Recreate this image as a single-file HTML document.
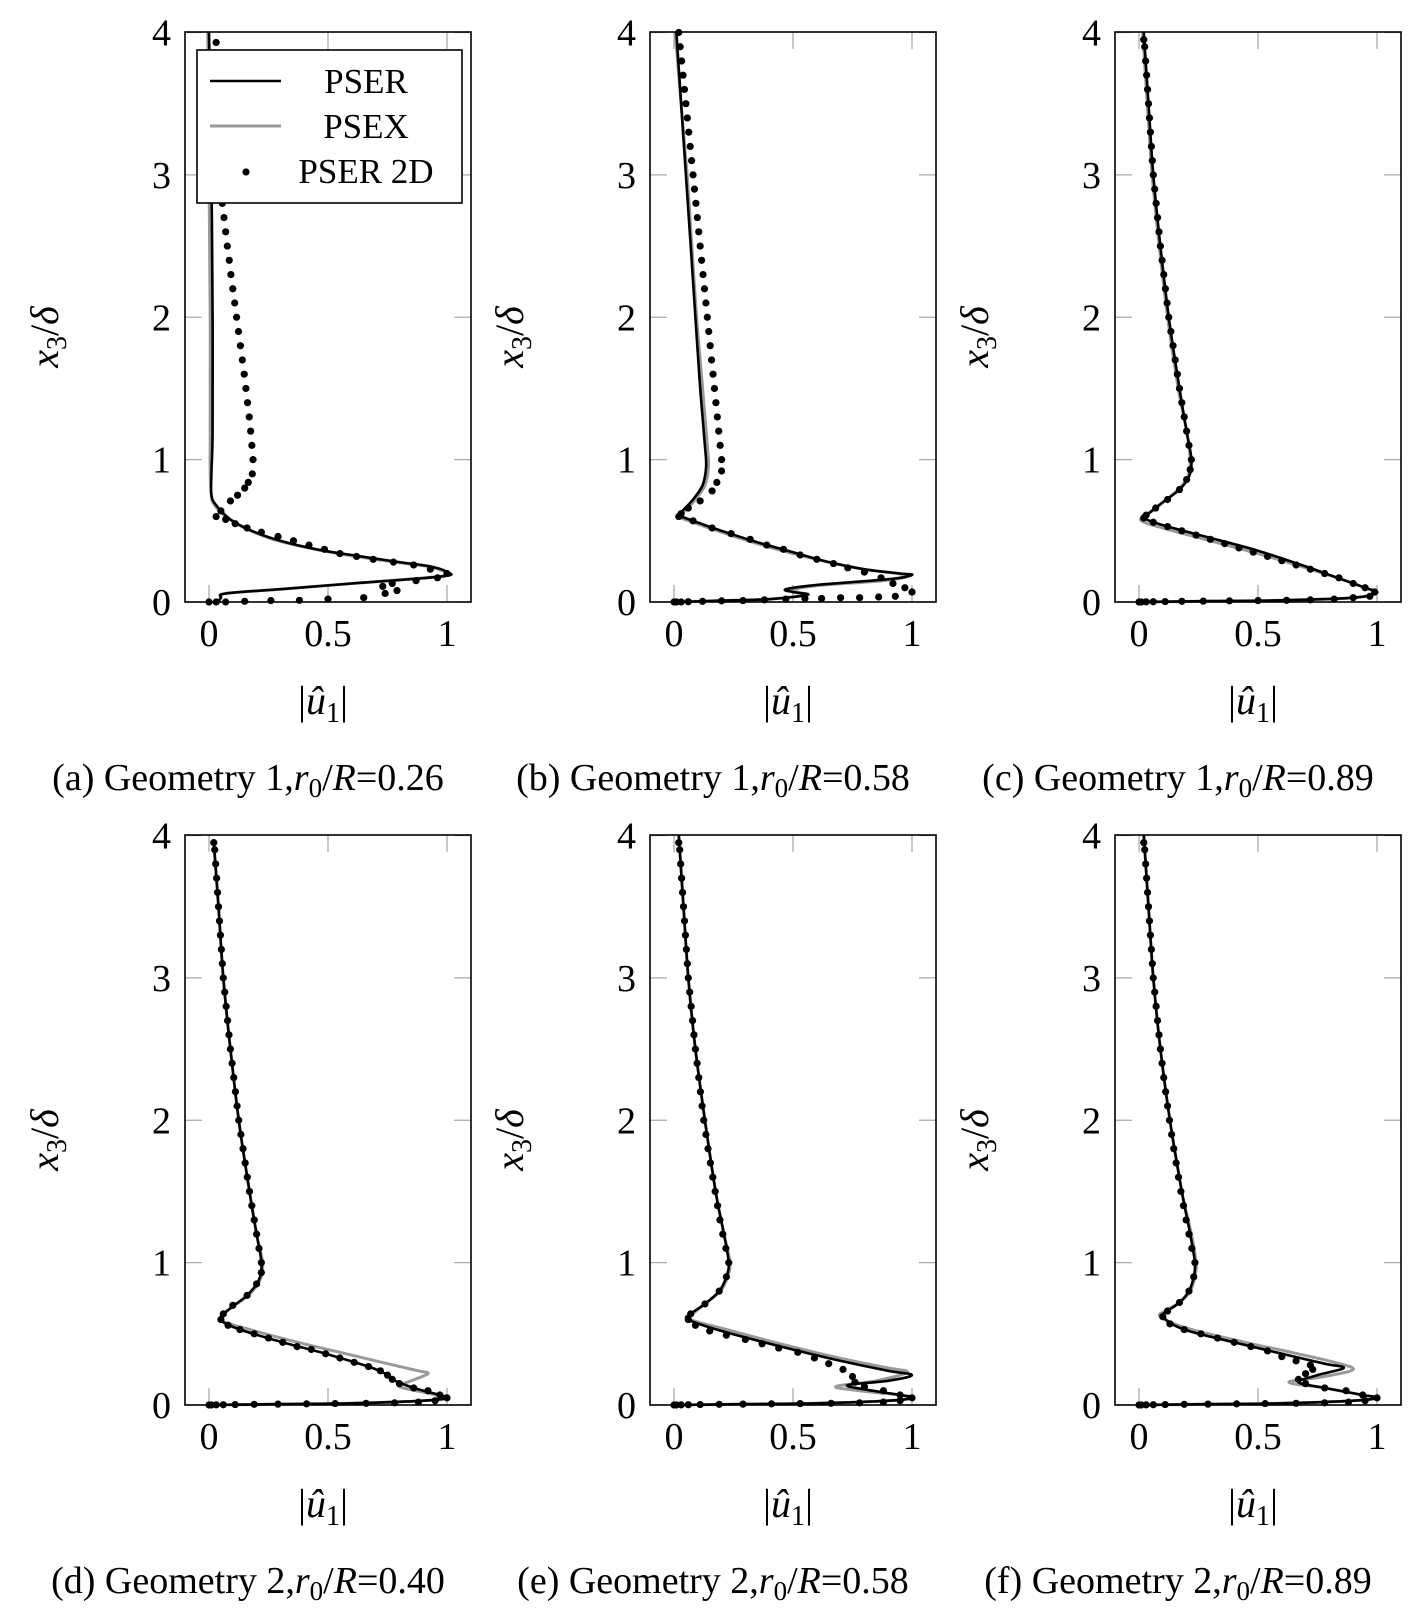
<!DOCTYPE html>
<html><head><meta charset="utf-8"><style>
html,body{margin:0;padding:0;background:#fff;}
svg{display:block;font-family:"Liberation Serif",serif;}
</style></head><body>
<svg id="fig" width="1421" height="1622" viewBox="0 0 1421 1622" xmlns="http://www.w3.org/2000/svg"></svg>
<script>
const xTicks=[0,0.5,1];
const xTickLabels=["0","0.5","1"];
const yTicks=[0,1,2,3,4];
const yTickLabels=["0","1","2","3","4"];
const captions=["(a) Geometry 1,","(b) Geometry 1,","(c) Geometry 1,","(d) Geometry 2,","(e) Geometry 2,","(f) Geometry 2,"];
const ratios=["0.26","0.58","0.89","0.40","0.58","0.89"];

const pserA=[[0,4],[0.01,3],[0.015,2],[0.015,1.2],[0.01,0.9],[0.01,0.75],[0.03,0.68],[0.09,0.58],[0.18,0.5],[0.3,0.43],[0.45,0.37],[0.6,0.33],[0.8,0.28],[0.93,0.25],[1.0,0.21],[0.98,0.18],[0.6,0.13],[0.3,0.09],[0.07,0.06],[0.05,0.03],[0.04,0]];
const psexA=[[-0.005,4],[0.0,3],[0.005,2],[0.005,1.2],[0.005,0.9],[0.01,0.75],[0.02,0.69],[0.07,0.6],[0.15,0.52],[0.27,0.44],[0.42,0.38],[0.58,0.33],[0.78,0.28],[0.92,0.25],[0.99,0.21],[0.97,0.18],[0.6,0.13],[0.3,0.09],[0.07,0.06],[0.05,0.03],[0.04,0]];
const dotsA=[[0.03,3.93],[0.035,3.8],[0.037,3.7],[0.038,3.6],[0.04,3.5],[0.041,3.4],[0.042,3.3],[0.043,3.2],[0.044,3.1],[0.045,3.0],[0.05,2.9],[0.056,2.8],[0.063,2.7],[0.07,2.6],[0.077,2.5],[0.085,2.4],[0.092,2.3],[0.1,2.2],[0.108,2.1],[0.116,2.0],[0.124,1.9],[0.132,1.8],[0.14,1.7],[0.148,1.6],[0.155,1.5],[0.162,1.4],[0.169,1.3],[0.175,1.2],[0.18,1.1],[0.185,1.0],[0.182,0.9],[0.165,0.84],[0.15,0.8],[0.12,0.75],[0.09,0.71],[0.05,0.64],[0.03,0.6],[0.07,0.58],[0.11,0.55],[0.16,0.52],[0.22,0.49],[0.29,0.46],[0.355,0.43],[0.42,0.4],[0.485,0.37],[0.55,0.34],[0.62,0.32],[0.69,0.3],[0.775,0.28],[0.86,0.26],[0.93,0.23],[1.0,0.2],[0.96,0.17],[0.87,0.15],[0.77,0.13],[0.73,0.11],[0.79,0.08],[0.74,0.06],[0.65,0.03],[0.5,0.02],[0.38,0.012],[0.26,0.01],[0.15,0.005],[0.07,0],[0.03,0],[0,0]];

const pserB=[[0.01,4],[0.03,3.5],[0.05,3],[0.07,2.5],[0.09,2],[0.11,1.5],[0.13,1.1],[0.135,0.95],[0.12,0.82],[0.08,0.72],[0.03,0.63],[0.02,0.61],[0.08,0.57],[0.2,0.5],[0.35,0.42],[0.5,0.35],[0.65,0.28],[0.8,0.23],[0.95,0.2],[1.0,0.19],[0.9,0.16],[0.6,0.12],[0.47,0.09],[0.5,0.07],[0.56,0.05],[0.4,0.02],[0.2,0.01],[0,0]];
const psexB=[[0.005,4],[0.03,3.5],[0.055,3],[0.075,2.5],[0.095,2],[0.12,1.5],[0.14,1.1],[0.145,0.95],[0.13,0.82],[0.09,0.72],[0.04,0.63],[0.02,0.6],[0.08,0.56],[0.2,0.49],[0.35,0.41],[0.5,0.34],[0.65,0.28],[0.8,0.23],[0.94,0.2],[0.98,0.18],[0.88,0.15],[0.6,0.115],[0.5,0.085],[0.53,0.065],[0.56,0.05],[0.4,0.02],[0.2,0.01],[0,0]];
const dotsB=[[0.02,4.0],[0.026,3.9],[0.032,3.8],[0.038,3.7],[0.044,3.6],[0.05,3.5],[0.056,3.4],[0.062,3.3],[0.068,3.2],[0.074,3.1],[0.08,3.0],[0.086,2.9],[0.092,2.8],[0.098,2.7],[0.104,2.6],[0.11,2.5],[0.116,2.4],[0.122,2.3],[0.128,2.2],[0.134,2.1],[0.14,2.0],[0.146,1.9],[0.152,1.8],[0.158,1.7],[0.164,1.6],[0.17,1.5],[0.176,1.4],[0.182,1.3],[0.188,1.2],[0.194,1.1],[0.2,1.0],[0.2,0.92],[0.18,0.84],[0.16,0.78],[0.11,0.71],[0.06,0.66],[0.03,0.62],[0.02,0.6],[0.08,0.57],[0.16,0.52],[0.24,0.48],[0.32,0.44],[0.39,0.4],[0.46,0.37],[0.53,0.33],[0.6,0.3],[0.67,0.27],[0.73,0.24],[0.8,0.21],[0.87,0.17],[0.92,0.13],[0.97,0.1],[1.0,0.07],[0.93,0.04],[0.86,0.035],[0.78,0.03],[0.7,0.03],[0.62,0.025],[0.55,0.025],[0.47,0.02],[0.38,0.015],[0.29,0.01],[0.2,0.008],[0.12,0.005],[0.06,0.002],[0.03,0],[0.01,0],[0,0]];

const pserC=[[0.02,4],[0.04,3.5],[0.06,3],[0.09,2.5],[0.125,2],[0.17,1.5],[0.2,1.2],[0.22,1.0],[0.21,0.88],[0.17,0.79],[0.1,0.7],[0.04,0.62],[0.02,0.59],[0.1,0.54],[0.3,0.45],[0.5,0.36],[0.7,0.25],[0.85,0.16],[0.95,0.1],[1.0,0.065],[0.9,0.03],[0.6,0.012],[0.3,0.006],[0,0]];
const psexC=[[0.015,4],[0.035,3.5],[0.055,3],[0.085,2.5],[0.12,2],[0.165,1.5],[0.2,1.2],[0.215,1.0],[0.205,0.88],[0.165,0.79],[0.1,0.7],[0.03,0.61],[0.01,0.57],[0.1,0.52],[0.3,0.43],[0.5,0.34],[0.7,0.24],[0.85,0.16],[0.95,0.1],[0.99,0.065],[0.9,0.03],[0.6,0.012],[0.3,0.006],[0,0]];
const dotsC=[[0.02,3.95],[0.024,3.9],[0.028,3.8],[0.032,3.7],[0.036,3.6],[0.04,3.5],[0.044,3.4],[0.048,3.3],[0.052,3.2],[0.056,3.1],[0.06,3.0],[0.066,2.9],[0.072,2.8],[0.078,2.7],[0.084,2.6],[0.09,2.5],[0.097,2.4],[0.104,2.3],[0.111,2.2],[0.118,2.1],[0.125,2.0],[0.134,1.9],[0.143,1.8],[0.152,1.7],[0.161,1.6],[0.17,1.5],[0.18,1.4],[0.19,1.3],[0.2,1.2],[0.21,1.1],[0.22,1.0],[0.215,0.93],[0.2,0.86],[0.17,0.79],[0.12,0.72],[0.07,0.66],[0.03,0.61],[0.02,0.59],[0.06,0.56],[0.12,0.53],[0.18,0.5],[0.24,0.47],[0.3,0.44],[0.36,0.41],[0.42,0.38],[0.48,0.35],[0.54,0.32],[0.6,0.29],[0.66,0.26],[0.72,0.23],[0.78,0.2],[0.84,0.17],[0.9,0.13],[0.95,0.1],[0.99,0.07],[0.97,0.04],[0.9,0.03],[0.82,0.02],[0.72,0.015],[0.62,0.012],[0.5,0.01],[0.38,0.008],[0.27,0.006],[0.18,0.005],[0.11,0.003],[0.06,0.002],[0.03,0.001],[0.01,0],[0,0]];

const pserD=[[0.02,3.95],[0.04,3.5],[0.06,3],[0.09,2.5],[0.125,2],[0.17,1.5],[0.2,1.2],[0.22,1.0],[0.21,0.88],[0.16,0.77],[0.09,0.68],[0.05,0.6],[0.13,0.53],[0.31,0.44],[0.49,0.36],[0.67,0.27],[0.74,0.22],[0.77,0.18],[0.86,0.12],[0.97,0.07],[1.0,0.05],[0.9,0.03],[0.6,0.012],[0.3,0.006],[0,0]];
const psexD=[[0.02,3.95],[0.04,3.5],[0.06,3],[0.09,2.5],[0.125,2],[0.17,1.5],[0.2,1.2],[0.225,1.0],[0.215,0.88],[0.165,0.77],[0.09,0.68],[0.05,0.6],[0.15,0.54],[0.35,0.45],[0.55,0.37],[0.75,0.29],[0.88,0.24],[0.92,0.22],[0.85,0.17],[0.8,0.13],[0.9,0.09],[1.0,0.05],[0.9,0.03],[0.6,0.012],[0.3,0.006],[0,0]];
const dotsD=[[0.02,3.95],[0.024,3.9],[0.028,3.8],[0.032,3.7],[0.036,3.6],[0.04,3.5],[0.044,3.4],[0.048,3.3],[0.052,3.2],[0.056,3.1],[0.06,3.0],[0.066,2.9],[0.072,2.8],[0.078,2.7],[0.084,2.6],[0.09,2.5],[0.097,2.4],[0.104,2.3],[0.111,2.2],[0.118,2.1],[0.125,2.0],[0.134,1.9],[0.143,1.8],[0.152,1.7],[0.161,1.6],[0.17,1.5],[0.18,1.4],[0.19,1.3],[0.2,1.2],[0.21,1.1],[0.22,1.0],[0.22,0.93],[0.2,0.85],[0.16,0.77],[0.1,0.7],[0.06,0.64],[0.05,0.6],[0.08,0.56],[0.13,0.53],[0.19,0.5],[0.25,0.47],[0.31,0.44],[0.37,0.41],[0.43,0.39],[0.49,0.36],[0.55,0.33],[0.61,0.3],[0.67,0.27],[0.72,0.24],[0.75,0.21],[0.77,0.18],[0.8,0.15],[0.86,0.12],[0.92,0.1],[0.97,0.07],[1.0,0.05],[0.95,0.03],[0.88,0.02],[0.78,0.015],[0.66,0.012],[0.53,0.01],[0.41,0.008],[0.29,0.006],[0.19,0.005],[0.11,0.003],[0.06,0.002],[0.03,0.001],[0.01,0],[0,0]];

const pserE=[[0.02,4],[0.04,3.5],[0.06,3],[0.09,2.5],[0.13,2],[0.175,1.5],[0.21,1.2],[0.23,1.0],[0.22,0.9],[0.19,0.8],[0.13,0.71],[0.07,0.64],[0.06,0.6],[0.2,0.52],[0.45,0.41],[0.7,0.31],[0.9,0.24],[1.0,0.21],[0.9,0.17],[0.73,0.14],[0.8,0.11],[0.95,0.07],[1.0,0.05],[0.9,0.03],[0.6,0.012],[0.3,0.006],[0,0]];
const psexE=[[0.02,4],[0.04,3.5],[0.06,3],[0.09,2.5],[0.13,2],[0.175,1.5],[0.21,1.2],[0.235,1.0],[0.225,0.9],[0.195,0.8],[0.13,0.71],[0.08,0.64],[0.07,0.6],[0.22,0.53],[0.47,0.42],[0.72,0.32],[0.9,0.26],[0.98,0.23],[0.85,0.17],[0.68,0.13],[0.78,0.1],[0.95,0.07],[1.0,0.05],[0.9,0.03],[0.6,0.012],[0.3,0.006],[0,0]];
const dotsE=[[0.02,3.95],[0.024,3.9],[0.028,3.8],[0.032,3.7],[0.036,3.6],[0.04,3.5],[0.044,3.4],[0.048,3.3],[0.052,3.2],[0.056,3.1],[0.06,3.0],[0.066,2.9],[0.072,2.8],[0.078,2.7],[0.084,2.6],[0.09,2.5],[0.097,2.4],[0.104,2.3],[0.111,2.2],[0.118,2.1],[0.125,2.0],[0.134,1.9],[0.143,1.8],[0.153,1.7],[0.163,1.6],[0.173,1.5],[0.183,1.4],[0.193,1.3],[0.205,1.2],[0.218,1.1],[0.23,1.0],[0.22,0.9],[0.19,0.8],[0.13,0.71],[0.07,0.64],[0.06,0.6],[0.09,0.56],[0.15,0.52],[0.22,0.49],[0.3,0.46],[0.37,0.43],[0.44,0.4],[0.52,0.37],[0.59,0.33],[0.65,0.29],[0.71,0.25],[0.75,0.2],[0.76,0.16],[0.8,0.13],[0.88,0.1],[0.95,0.07],[1.0,0.05],[0.95,0.03],[0.88,0.02],[0.78,0.015],[0.66,0.012],[0.53,0.01],[0.41,0.008],[0.29,0.006],[0.19,0.005],[0.11,0.003],[0.06,0.002],[0.03,0.001],[0.01,0],[0,0]];

const pserF=[[0.02,4],[0.04,3.5],[0.06,3],[0.09,2.5],[0.13,2],[0.18,1.5],[0.215,1.2],[0.235,1.0],[0.23,0.9],[0.21,0.8],[0.17,0.72],[0.12,0.66],[0.1,0.62],[0.19,0.53],[0.4,0.44],[0.6,0.36],[0.78,0.29],[0.86,0.26],[0.75,0.21],[0.67,0.16],[0.78,0.12],[0.94,0.07],[1.0,0.05],[0.9,0.03],[0.6,0.012],[0.3,0.006],[0,0]];
const psexF=[[0.02,4],[0.04,3.5],[0.06,3],[0.09,2.5],[0.13,2],[0.18,1.5],[0.22,1.2],[0.24,1.0],[0.235,0.9],[0.215,0.8],[0.17,0.72],[0.11,0.66],[0.09,0.62],[0.2,0.54],[0.42,0.45],[0.64,0.37],[0.82,0.3],[0.9,0.25],[0.78,0.2],[0.63,0.16],[0.78,0.12],[0.94,0.07],[1.0,0.05],[0.9,0.03],[0.6,0.012],[0.3,0.006],[0,0]];
const dotsF=[[0.02,3.95],[0.024,3.9],[0.028,3.8],[0.032,3.7],[0.036,3.6],[0.04,3.5],[0.044,3.4],[0.048,3.3],[0.052,3.2],[0.056,3.1],[0.06,3.0],[0.066,2.9],[0.072,2.8],[0.078,2.7],[0.084,2.6],[0.09,2.5],[0.097,2.4],[0.104,2.3],[0.112,2.2],[0.12,2.1],[0.128,2.0],[0.137,1.9],[0.146,1.8],[0.156,1.7],[0.166,1.6],[0.176,1.5],[0.187,1.4],[0.198,1.3],[0.21,1.2],[0.222,1.1],[0.235,1.0],[0.23,0.9],[0.21,0.8],[0.17,0.72],[0.12,0.66],[0.1,0.62],[0.13,0.57],[0.19,0.53],[0.26,0.5],[0.33,0.47],[0.4,0.44],[0.47,0.41],[0.54,0.38],[0.6,0.34],[0.66,0.31],[0.72,0.28],[0.73,0.25],[0.7,0.22],[0.67,0.18],[0.7,0.15],[0.78,0.12],[0.87,0.1],[0.94,0.07],[1.0,0.05],[0.95,0.03],[0.88,0.02],[0.78,0.015],[0.66,0.012],[0.53,0.01],[0.41,0.008],[0.29,0.006],[0.19,0.005],[0.11,0.003],[0.06,0.002],[0.03,0.001],[0.01,0],[0,0]];

const panelPser=[pserA,pserB,pserC,pserD,pserE,pserF];
const panelPsex=[psexA,psexB,psexC,psexD,psexE,psexF];
const panelDots=[dotsA,dotsB,dotsC,dotsD,dotsE,dotsF];

const NS="http://www.w3.org/2000/svg";
const svg=document.getElementById('fig');
function mk(tag,attrs,parent,text){const e=document.createElementNS(NS,tag);for(const k in attrs)e.setAttribute(k,attrs[k]);if(text!==undefined)e.textContent=text;(parent||svg).appendChild(e);return e;}

const BOXW=286, BOXH=570, SCALEX=238;
const lefts=[185,650,1115];
const bottoms=[602,1405];
const letters=["a","b","c","d","e","f"];

// smooth path through pixel points (Catmull-Rom -> cubic Bezier)
function smooth(P){
  let d='M'+P[0][0].toFixed(1)+' '+P[0][1].toFixed(1);
  for(let i=0;i<P.length-1;i++){
    const p0=P[i-1]||P[i], p1=P[i], p2=P[i+1], p3=P[i+2]||P[i+1];
    const t=0.5/3;
    const c1=[p1[0]+(p2[0]-p0[0])*t, p1[1]+(p2[1]-p0[1])*t];
    const c2=[p2[0]-(p3[0]-p1[0])*t, p2[1]-(p3[1]-p1[1])*t];
    d+=' C'+c1[0].toFixed(1)+' '+c1[1].toFixed(1)+' '+c2[0].toFixed(1)+' '+c2[1].toFixed(1)+' '+p2[0].toFixed(1)+' '+p2[1].toFixed(1);
  }
  return d;
}

for(let p=0;p<6;p++){
  const L=lefts[p%3], B=bottoms[Math.floor(p/3)], T=B-BOXH;
  const x0=L+24;
  const sx=v=>x0+v*SCALEX;
  const sy=v=>B-v*(BOXH-0.5)/4;
  const g=mk('g',{});
  
  
  xTicks.forEach((t,i)=>{
    const X=sx(t);
    const tk1=mk('line',{x1:X,y1:B,x2:X,y2:B-17,stroke:'#aaa','stroke-width':1.3},g);
    
    
    const tk2=mk('line',{x1:X,y1:T,x2:X,y2:T+17,stroke:'#aaa','stroke-width':1.3},g);
    
    
    const lb=mk('text',{x:X,y:B+44,'font-size':38,'text-anchor':'middle'},g,xTickLabels[i]);
    
    
  });
  yTicks.forEach((t,i)=>{
    const Y=sy(t);
    const tk1=mk('line',{x1:L,y1:Y,x2:L+17,y2:Y,stroke:'#aaa','stroke-width':1.3},g);
    
    
    const tk2=mk('line',{x1:L+BOXW,y1:Y,x2:L+BOXW-17,y2:Y,stroke:'#aaa','stroke-width':1.3},g);
    
    
    const lb=mk('text',{x:L-14,y:Y+13,'font-size':38,'text-anchor':'end'},g,yTickLabels[i]);
    
    
  });
  const cp=mk('clipPath',{id:'cp'+p},g);
  mk('rect',{x:L,y:T-6,width:BOXW,height:BOXH+12},cp);
  const toPx=pts=>pts.map(q=>[sx(q[0]),sy(q[1])]);
  const ps=mk('path',{d:smooth(toPx(panelPsex[p])),fill:'none',stroke:'#999','stroke-width':3,'stroke-linejoin':'round','clip-path':'url(#cp'+p+')'},g);
  
  
  const pr=mk('path',{d:smooth(toPx(panelPser[p])),fill:'none',stroke:'#000','stroke-width':2.6,'stroke-linejoin':'round','clip-path':'url(#cp'+p+')'},g);
  
  
  panelDots[p].forEach(q=>{
    const c=mk('circle',{cx:sx(q[0]),cy:sy(q[1]),r:3.6,fill:'#000'},g);
    
    
  });
  const box=mk('rect',{x:L,y:T,width:BOXW,height:BOXH,fill:'none',stroke:'#000','stroke-width':1.6},g);
  
  
  const xt=mk('text',{x:L+BOXW/2-5,y:B+112,'font-size':40,'text-anchor':'middle'},g);
  
  
  xt.innerHTML='|<tspan font-style="italic">û</tspan><tspan font-size="28" dy="8">1</tspan><tspan dy="-8">|</tspan>';
  const yc=(T+B)/2+20;
  const yt=mk('text',{x:0,y:0,'font-size':40,'text-anchor':'middle',transform:'translate('+(L-127)+','+(yc)+') rotate(-90)'},g);
  
  
  yt.innerHTML='<tspan font-style="italic">x</tspan><tspan font-size="28" dy="8">3</tspan><tspan dy="-8">/</tspan><tspan font-style="italic">δ</tspan>';
  const cap=mk('text',{x:L+BOXW/2-80,y:B+188,'font-size':38,'text-anchor':'middle'},g);
  
  
  cap.innerHTML=captions[p]+'<tspan font-style="italic">r</tspan><tspan font-size="27" dy="7">0</tspan><tspan dy="-7">/</tspan><tspan font-style="italic">R</tspan>='+ratios[p];
}

const lg=mk('g',{});


mk('rect',{x:197,y:50,width:265,height:153,fill:'#fff',stroke:'#000','stroke-width':1.6},lg);
const e1=mk('line',{x1:210,y1:81,x2:281,y2:81,stroke:'#000','stroke-width':2.6},lg);


mk('text',{x:366,y:93,'font-size':35,'text-anchor':'middle'},lg,'PSER');
const e2=mk('line',{x1:210,y1:126,x2:281,y2:126,stroke:'#999','stroke-width':3},lg);


mk('text',{x:366,y:138,'font-size':35,'text-anchor':'middle'},lg,'PSEX');
const e3=mk('circle',{cx:246,cy:172,r:3.6,fill:'#000'},lg);


mk('text',{x:366,y:183,'font-size':35,'text-anchor':'middle'},lg,'PSER 2D');
</script>
</body></html>
